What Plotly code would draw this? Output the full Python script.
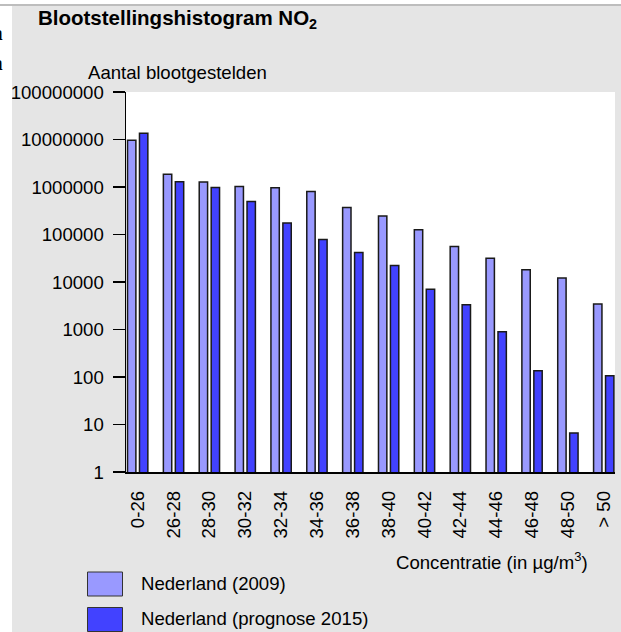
import plotly.graph_objects as go

categories = ["0-26", "26-28", "28-30", "30-32", "32-34", "34-36", "36-38",
              "38-40", "40-42", "42-44", "44-46", "46-48", "48-50", "> 50"]
nl_2009 = [9600000, 1850000, 1270000, 1030000, 967000, 807000, 371000,
           244000, 126000, 55800, 31800, 18000, 12200, 3450]
nl_2015 = [13500000, 1290000, 980000, 497000, 174000, 78500, 41700,
           22200, 7050, 3330, 900, 135, 6.6, 106]
series_names = ["Nederland (2009)", "Nederland (prognose 2015)"]
y_tickvals = [1, 10, 100, 1000, 10000, 100000, 1000000, 10000000, 100000000]
y_ticktext = ["1", "10", "100", "1000", "10000", "100000", "1000000", "10000000", "100000000"]

W, H = 621, 632
L, R, T, B = 126, 6, 92, 160
PW, PH = W - L - R, H - T - B

def px(x):
    return (x - L) / PW

def py(y):
    return (H - B - y) / PH

FONT = "Arial, Liberation Sans, sans-serif"
FS = 18.6
light = "#9999ff"
dark = "#4242ff"
edge = "#1a1a1a"

fig = go.Figure()
fig.add_trace(go.Bar(x=categories, y=nl_2009, name=series_names[0],
                     marker=dict(color=light, line=dict(color=edge, width=1.5))))
fig.add_trace(go.Bar(x=categories, y=nl_2015, name=series_names[1],
                     marker=dict(color=dark, line=dict(color=edge, width=1.5))))

fig.update_layout(
    width=W, height=H,
    margin=dict(l=L, r=R, t=T, b=B, pad=0),
    paper_bgcolor="#e5e5e5",
    plot_bgcolor="white",
    barmode="group",
    bargap=0.333,
    bargroupgap=0.30,
    showlegend=False,
    font=dict(family=FONT, size=FS, color="black"),
)
fig.update_xaxes(
    type="category", range=[-0.326, 13.314],
    showline=True, linecolor="black", linewidth=1.5,
    ticks="", tickangle=-90, ticklabelstandoff=10,
    tickfont=dict(family=FONT, size=FS),
    showgrid=False, zeroline=False, fixedrange=True,
)
fig.update_yaxes(
    type="log", range=[0, 8],
    tickvals=y_tickvals, ticktext=y_ticktext,
    showline=True, linecolor="black", linewidth=1.5,
    ticks="outside", ticklen=12, tickwidth=1.5, tickcolor="black",
    ticklabelstandoff=5,
    tickfont=dict(family=FONT, size=FS),
    showgrid=False, zeroline=False, fixedrange=True,
)

shapes = [
    # white margins of the scanned page
    dict(type="rect", xref="paper", yref="paper", x0=px(-5), x1=px(12), y0=py(-5), y1=py(H + 5),
         fillcolor="white", line=dict(width=0), layer="above"),
    dict(type="rect", xref="paper", yref="paper", x0=px(-5), x1=px(W + 5), y0=py(-5), y1=py(4),
         fillcolor="white", line=dict(width=0), layer="above"),
    dict(type="line", xref="paper", yref="paper", x0=px(0), x1=px(W), y0=py(5), y1=py(5),
         line=dict(color="#bdbdbd", width=2), layer="above"),
    # legend swatches
    dict(type="rect", xref="paper", yref="paper", x0=px(87.5), x1=px(122.5), y0=py(572), y1=py(596),
         fillcolor=light, line=dict(color="#333333", width=1), layer="above"),
    dict(type="rect", xref="paper", yref="paper", x0=px(87.5), x1=px(122.5), y0=py(607.5), y1=py(631.5),
         fillcolor=dark, line=dict(color="#333333", width=1), layer="above"),
]

annotations = [
    dict(text="<b>Blootstellingshistogram NO<sub>2</sub></b>", x=px(36), y=py(19),
         xanchor="left", yanchor="middle", font=dict(size=20.5)),
    dict(text="Aantal blootgestelden", x=px(86), y=py(73),
         xanchor="left", yanchor="middle"),
    dict(text="Concentratie (in µg/m<sup>3</sup>)", x=px(590), y=py(561),
         xanchor="right", yanchor="middle"),
    dict(text=series_names[0], x=px(139), y=py(583.5), xanchor="left", yanchor="middle"),
    dict(text=series_names[1], x=px(139), y=py(618.5), xanchor="left", yanchor="middle"),
    dict(text="<b>n</b>", x=px(5), y=py(33), xanchor="right", yanchor="middle",
         font=dict(family="Liberation Serif, DejaVu Serif, serif", size=21)),
    dict(text="<b>n</b>", x=px(5), y=py(63), xanchor="right", yanchor="middle",
         font=dict(family="Liberation Serif, DejaVu Serif, serif", size=21)),
    dict(text="e", x=px(2.5), y=py(430), xanchor="right", yanchor="middle",
         font=dict(family="Liberation Sans, sans-serif", size=19)),
]
for a in annotations:
    a.update(xref="paper", yref="paper", showarrow=False)

fig.update_layout(shapes=shapes, annotations=annotations)
fig.write_html(
    "out.html",
    config={"displayModeBar": False, "staticPlot": True},
    post_script="document.body.style.margin='0';document.body.style.padding='0';"
                "document.body.style.overflow='hidden';",
)
